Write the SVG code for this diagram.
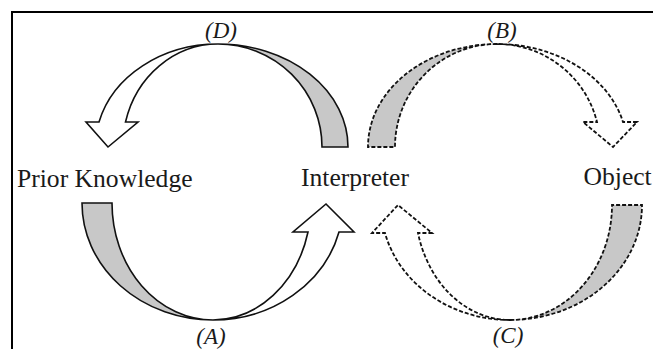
<svg xmlns="http://www.w3.org/2000/svg" width="653" height="349" viewBox="0 0 653 349">
<style>
.node{font-family:"Liberation Serif","Times New Roman",serif;font-size:25.6px;fill:#1a1a1a}
.lbl{font-family:"Liberation Serif","Times New Roman",serif;font-size:23px;font-style:italic;fill:#1a1a1a;text-anchor:middle}
.solid{stroke:#111;stroke-width:1.6;stroke-linejoin:miter}
.dash{stroke:#111;stroke-width:1.8;stroke-dasharray:4 2;stroke-linejoin:miter}
.gray{fill:#c8c8c8}
.white{fill:#fff}
</style>
<rect x="0" y="0" width="653" height="349" fill="#fff"/>
<path d="M12,349 V12 H653" fill="none" stroke="#000" stroke-width="2"/>
<g id="prior-knowledge"><text class="node" x="17" y="187">Prior Knowledge</text></g>
<g id="interpreter"><text class="node" x="301" y="186">Interpreter</text></g>
<g id="object"><text class="node" x="583.5" y="185">Object</text></g>
<g id="connectors">
<g id="arrow-D">
<path class="gray solid" d="M218,44 A130,103 0 0 1 348,147 L322,147 A104,103 0 0 0 218,44 Z"/>
<path class="white solid" d="M218,44 A122.7,103 0 0 0 99,122 L86,122 L108,147 L138,122 L125.5,122 A95.4,103 0 0 1 218,44 Z"/>
<text class="lbl" x="221" y="38">(D)</text>
</g>
<g id="arrow-B">
<path class="gray dash" d="M497,44 A129,103 0 0 0 368,147 L395,147 A102,103 0 0 1 497,44 Z"/>
<path class="white dash" d="M497,44 A129.9,103 0 0 1 623,122 L637,122 L613,147 L583,122 L597,122 A103.1,103 0 0 0 497,44 Z"/>
<text class="lbl" x="502" y="38">(B)</text>
</g>
<g id="arrow-A">
<path class="gray solid" d="M213,320 A131,117 0 0 1 82,203 L112,203 A101,117 0 0 0 213,320 Z"/>
<path class="white solid" d="M213,320 A130.1,117 0 0 0 339,232 L354,232 L326,204 L293,232 L308,232 A98.1,117 0 0 1 213,320 Z"/>
<text class="lbl" x="211" y="344">(A)</text>
</g>
<g id="arrow-C">
<path class="gray dash" d="M510,320 A132,115 0 0 0 642,205 L612,205 A102,115 0 0 1 510,320 Z"/>
<path class="white dash" d="M510,320 A128.9,115 0 0 1 385,233 L372,233 L398,205 L432,233 L418,233 A94.8,115 0 0 0 510,320 Z"/>
<text class="lbl" x="508" y="343">(C)</text>
</g>
</g>
</svg>
